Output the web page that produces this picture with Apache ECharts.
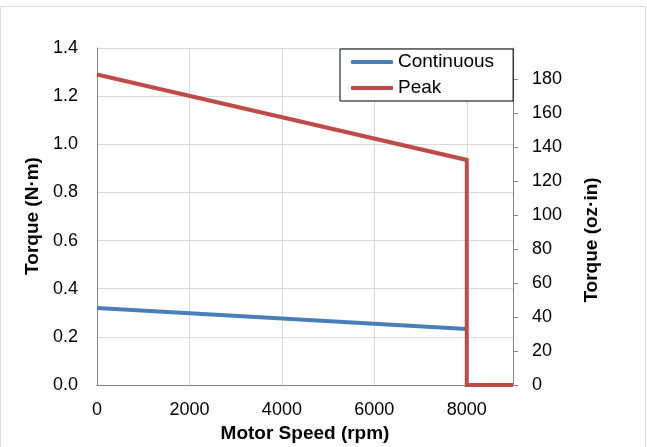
<!DOCTYPE html>
<html>
<head>
<meta charset="utf-8">
<script src="https://cdn.jsdelivr.net/npm/echarts@6/dist/echarts.min.js"></script>
<style>html,body{margin:0;padding:0;background:#fff;}#c{width:647px;height:447px;}</style>
</head>
<body>
<div id="c"></div>
<script>
// Data
const speedContinuous = [0, 8000];
const torqueContinuous = [0.32, 0.233];
const speedPeak = [0, 8000, 8000, 9000];
const torquePeak = [1.29, 0.935, 0, 0];
const seriesNames = ['Continuous', 'Peak'];
const xTitle = 'Motor Speed (rpm)';
const yLeftTitle = 'Torque (N·m)';
const yRightTitle = 'Torque (oz·in)';
const NM_TO_OZIN = 141.612;

const FONT = "'Liberation Sans', Arial, sans-serif";
const chart = echarts.init(document.getElementById('c'), null, {renderer: 'canvas'});
const pair = (xs, ys) => xs.map((x, i) => [x, ys[i]]);
const yMax = 1.4;

chart.setOption({
  animation: false,
  backgroundColor: '#fff',
  grid: {left: 97, top: 48, right: 134, bottom: 62, containLabel: false},
  legend: {
    data: seriesNames,
    orient: 'vertical',
    left: 340, top: 49,
    padding: [3, 19, 3, 11],
    itemGap: 6,
    itemWidth: 42, itemHeight: 4,
    icon: 'roundRect',
    borderColor: '#000', borderWidth: 1,
    backgroundColor: '#fff',
    textStyle: {fontFamily: FONT, fontSize: 19, color: '#000', lineHeight: 20, padding: [0, 0, 0, 0]}
  },
  xAxis: {
    type: 'value', min: 0, max: 9000, interval: 2000,
    axisLine: {show: true, lineStyle: {color: '#868686', width: 1}},
    axisTick: {show: false},
    axisLabel: {fontFamily: FONT, fontSize: 18, color: '#000', margin: 16, showMaxLabel: false, formatter: v => String(v)},
    splitLine: {show: true, lineStyle: {color: '#d9d9d9', width: 1}}
  },
  yAxis: [{
    type: 'value', min: 0, max: yMax, interval: 0.2, position: 'left',
    axisLine: {show: true, lineStyle: {color: '#868686', width: 1}},
    axisTick: {show: false},
    axisLabel: {fontFamily: FONT, fontSize: 18, color: '#000', margin: 19, formatter: v => v.toFixed(1)},
    splitLine: {show: true, lineStyle: {color: '#d9d9d9', width: 1}}
  }, {
    type: 'value', min: 0, max: yMax * NM_TO_OZIN, interval: 20, position: 'right',
    axisLine: {show: true, lineStyle: {color: '#868686', width: 1}},
    axisTick: {show: true, inside: false, length: 5, lineStyle: {color: '#868686'}},
    axisLabel: {fontFamily: FONT, fontSize: 18, color: '#000', margin: 19, showMaxLabel: false, formatter: v => String(v)},
    splitLine: {show: false}
  }],
  graphic: [
    {type: 'rect', shape: {x: 0.5, y: 6.5, width: 645, height: 470}, style: {fill: 'none', stroke: '#d9d9d9', lineWidth: 1}, silent: true, z: -10},
    {type: 'text', x: 33, y: 216, rotation: Math.PI / 2, style: {text: yLeftTitle, font: 'bold 19px ' + FONT, fill: '#000', align: 'center', verticalAlign: 'middle'}},
    {type: 'text', x: 592, y: 240, rotation: Math.PI / 2, style: {text: yRightTitle, font: 'bold 19px ' + FONT, fill: '#000', align: 'center', verticalAlign: 'middle'}},
    {type: 'text', x: 305, y: 434, style: {text: xTitle, font: 'bold 19px ' + FONT, fill: '#000', align: 'center', verticalAlign: 'middle'}}
  ],
  series: [{
    name: seriesNames[0], type: 'line', yAxisIndex: 0,
    data: pair(speedContinuous, torqueContinuous),
    symbol: 'none', lineStyle: {color: '#4a7ebb', width: 4}, itemStyle: {color: '#4a7ebb'}
  }, {
    name: seriesNames[1], type: 'line', yAxisIndex: 0,
    data: pair(speedPeak, torquePeak),
    symbol: 'none', lineStyle: {color: '#be4b48', width: 4, join: 'miter'}, itemStyle: {color: '#be4b48'}
  }]
});
</script>
</body>
</html>
